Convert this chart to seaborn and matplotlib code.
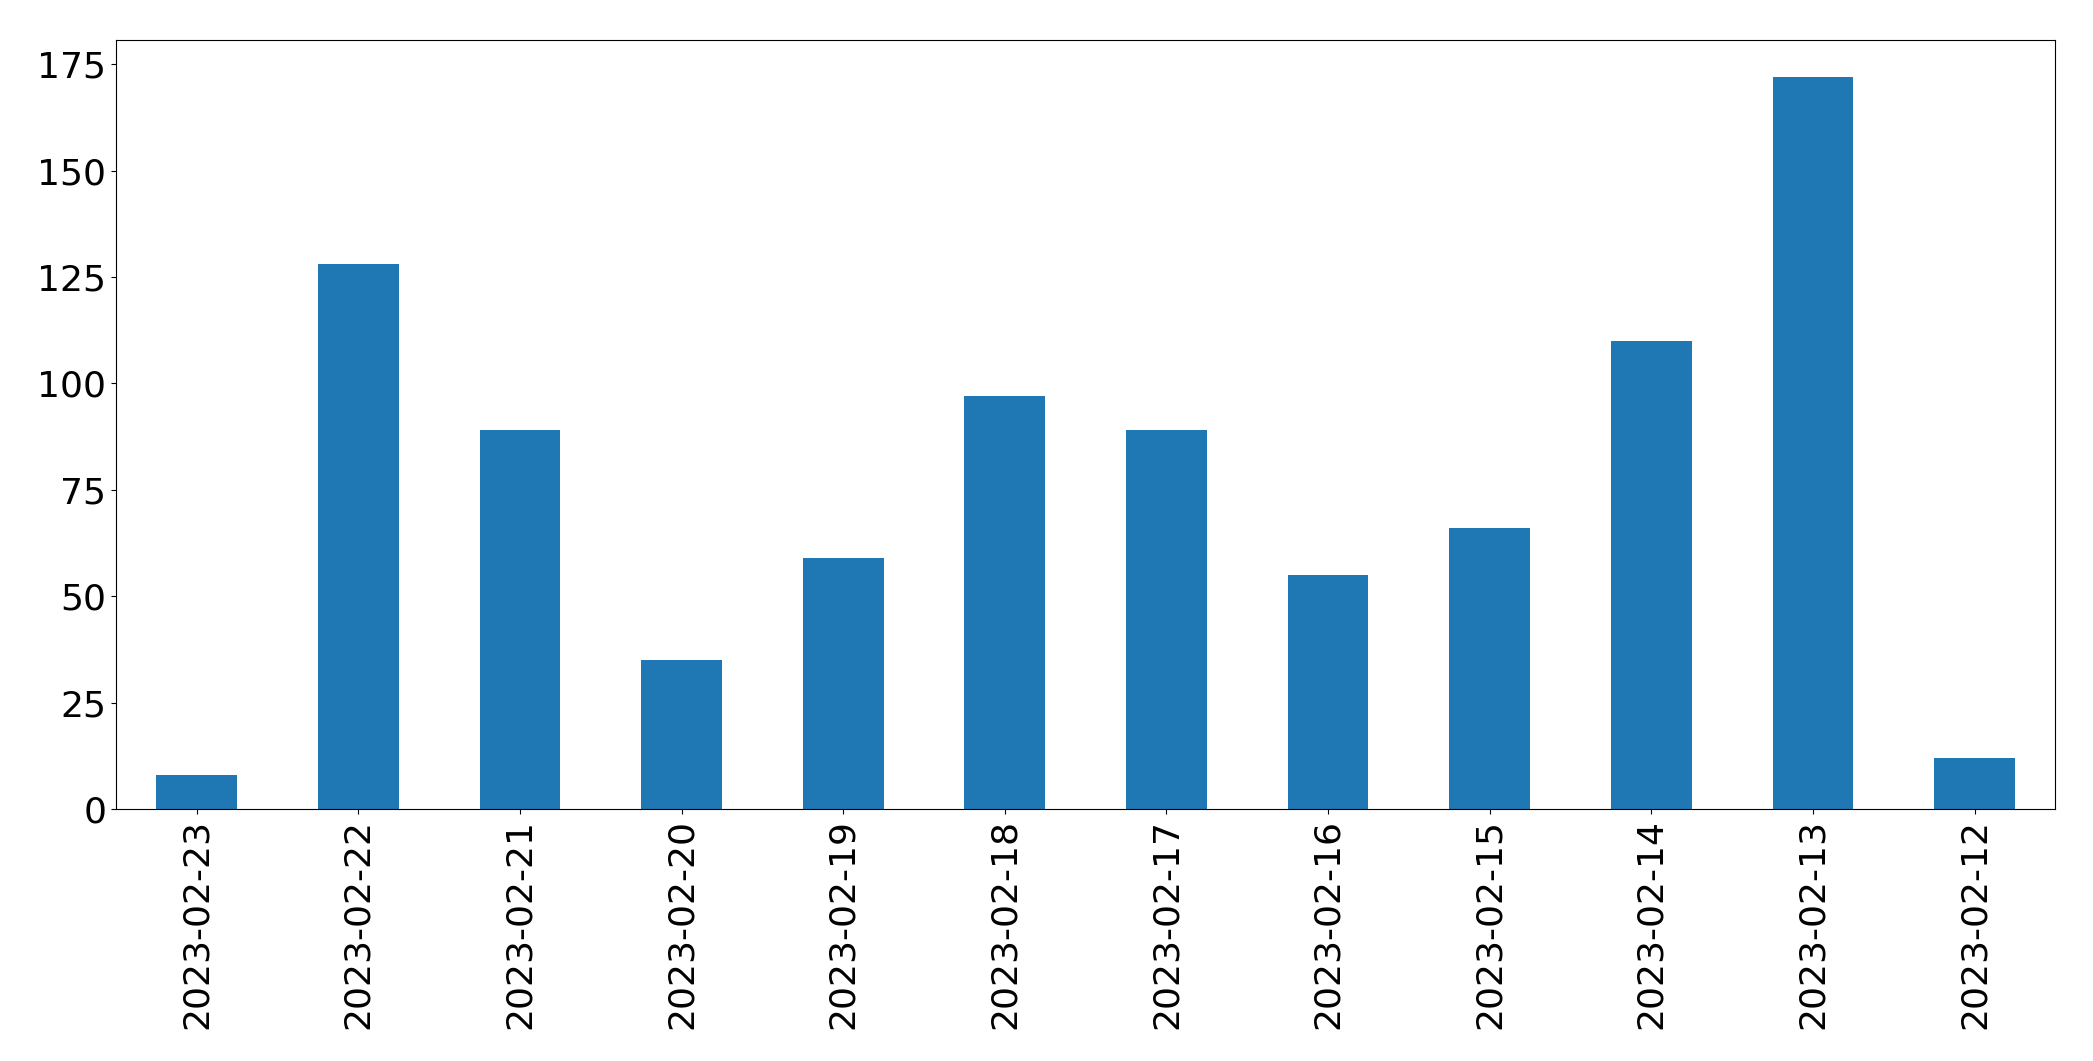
import matplotlib
matplotlib.use("Agg")
import matplotlib.pyplot as plt
import seaborn as sns
import pandas as pd

dates = ["2023-02-23", "2023-02-22", "2023-02-21", "2023-02-20", "2023-02-19", "2023-02-18",
         "2023-02-17", "2023-02-16", "2023-02-15", "2023-02-14", "2023-02-13", "2023-02-12"]
counts = [8, 128, 89, 35, 59, 97, 89, 55, 66, 110, 172, 12]

df = pd.DataFrame({"date": dates, "count": counts})

fig, ax = plt.subplots(figsize=(20.93, 10.61), dpi=100)
sns.barplot(data=df, x="date", y="count", order=dates, color="#1f77b4",
            saturation=1, width=0.5, ax=ax)
ax.set_xlim(-0.5, len(dates) - 0.5)
ax.set_ylim(0, max(counts) * 1.05)
ax.set_xlabel("")
ax.set_ylabel("")
ax.tick_params(axis="both", labelsize=26)
ax.tick_params(axis="x", labelrotation=90)
for s in ax.spines.values():
    s.set_visible(True)
    s.set_color("black")
fig.subplots_adjust(left=0.0554, right=0.982, top=0.962, bottom=0.2375)
fig.savefig("out.png", dpi=100)
